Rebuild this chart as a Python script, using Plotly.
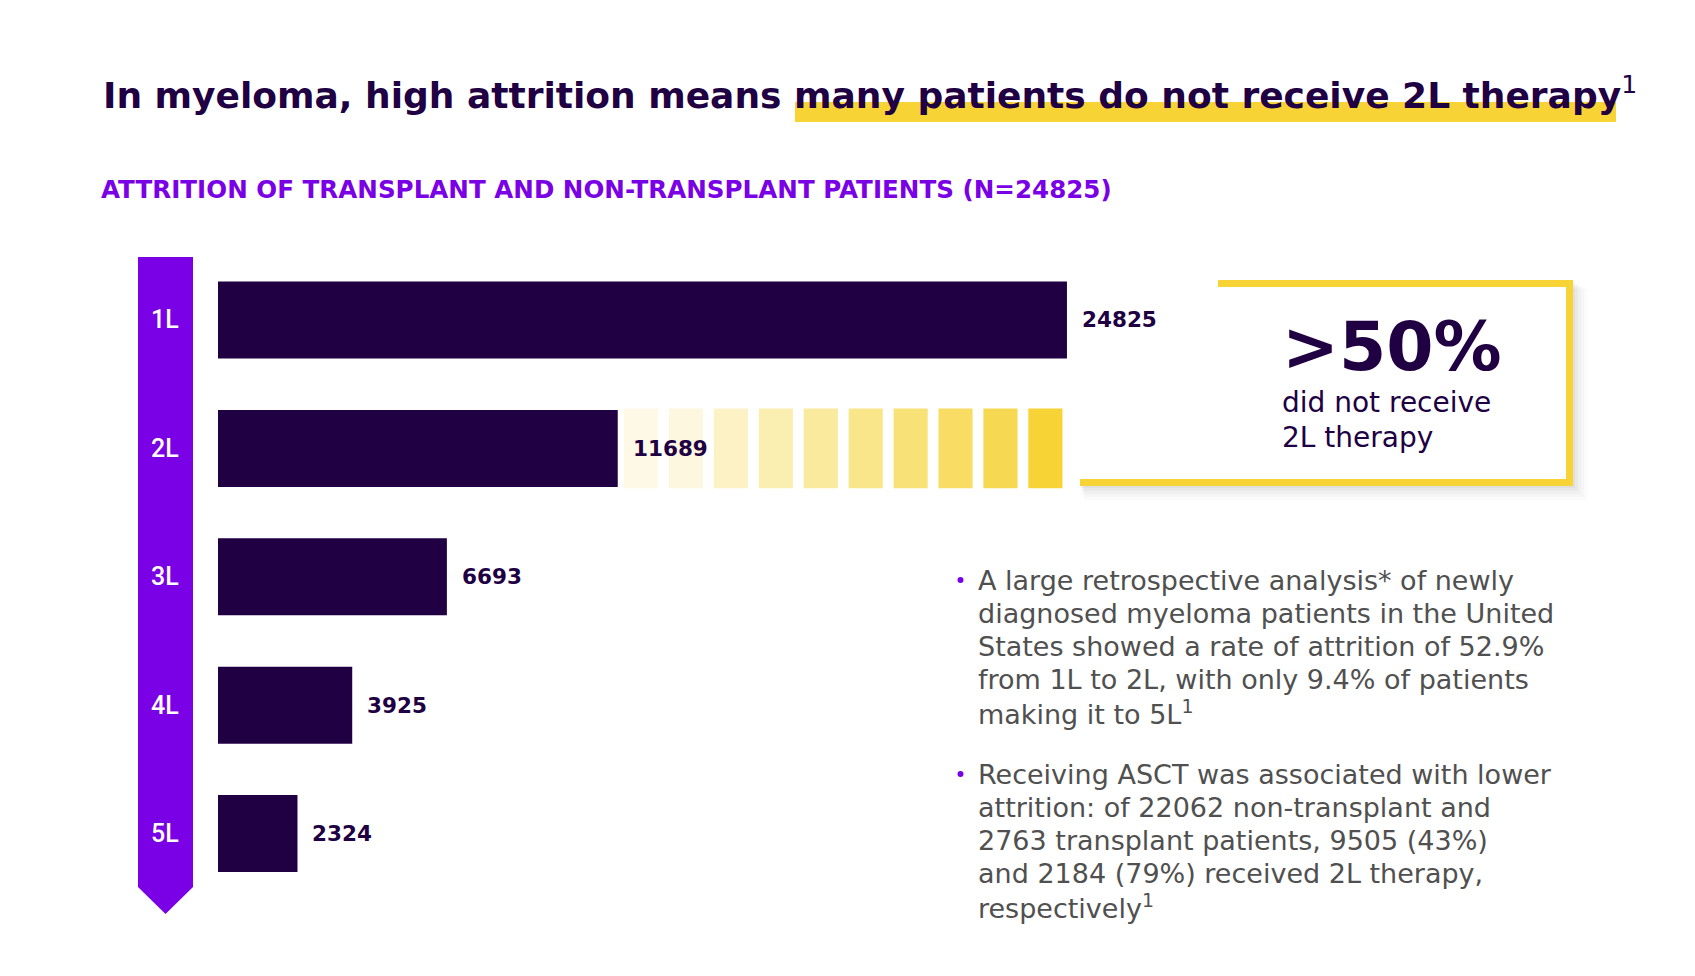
import plotly.graph_objects as go

# ---------------- data ----------------
lines = ["1L", "2L", "3L", "4L", "5L"]
patients = [24825, 11689, 6693, 3925, 2324]
n_stripes = 10
stripe_colors = ["#FEF9E6", "#FDF7E0", "#FCF2C6", "#FBEEB1", "#FAEA9E",
                 "#F9E58A", "#F8E177", "#F8DC64", "#F7D852", "#F7D336"]

title_plain = "In myeloma, high attrition means "
title_high = "many patients do not receive 2L therapy"
subtitle = "ATTRITION OF TRANSPLANT AND NON-TRANSPLANT PATIENTS (N=24825)"
callout_big = ">50%"
callout_lines = ["did not receive", "2L therapy"]
bullet1 = ["A large retrospective analysis* of newly",
           "diagnosed myeloma patients in the United",
           "States showed a rate of attrition of 52.9%",
           "from 1L to 2L, with only 9.4% of patients",
           "making it to 5L<sup>1</sup>"]
bullet2 = ["Receiving ASCT was associated with lower",
           "attrition: of 22062 non-transplant and",
           "2763 transplant patients, 9505 (43%)",
           "and 2184 (79%) received 2L therapy,",
           "respectively<sup>1</sup>"]

# ---------------- style / layout ----------------
W, H = 1695, 976
DARK = "#200043"
PURPLE = "#7A00E6"
YELLOW = "#F7D336"
GRAY = "#505050"
HEAD_FONT = "DejaVu Sans"
CAT_FONT = "Roboto"
BODY_FONT = "DejaVu Sans"

def px(x):
    return x / W

def py(y):
    return 1 - y / H

PLOT_LEFT = 218
X_MAX = 43190  # axis range so the longest bar ends near x=1067px

fig = go.Figure()

# main bars
fig.add_trace(go.Bar(
    y=lines, x=patients, orientation="h",
    marker=dict(color=DARK, line=dict(width=0)),
    width=0.6, hoverinfo="skip", showlegend=False,
))

# attrition stripes on the 2L row (lost patients split into equal slices)
lost = patients[0] - patients[1]
slot = lost / n_stripes
bases = [patients[1] + i * slot + 0.14 * slot for i in range(n_stripes)]
fig.add_trace(go.Bar(
    y=["2L"] * n_stripes, x=[0.76 * slot] * n_stripes, base=bases,
    orientation="h", marker=dict(color=stripe_colors, line=dict(width=0)),
    width=0.62, hoverinfo="skip", showlegend=False,
))

shapes = []
# purple arrow
ax0, ax1, atop, abot, atip = 138, 193, 257, 887, 914
path = (f"M {px(ax0)} {py(atop)} L {px(ax1)} {py(atop)} L {px(ax1)} {py(abot)} "
        f"L {px((ax0 + ax1) / 2)} {py(atip)} L {px(ax0)} {py(abot)} Z")
shapes.append(dict(type="path", xref="paper", yref="paper", path=path,
                   fillcolor=PURPLE, line=dict(width=0), layer="below"))

# title highlight
shapes.append(dict(type="rect", xref="paper", yref="paper",
                   x0=px(795), x1=px(1616), y0=py(102), y1=py(122),
                   fillcolor=YELLOW, line=dict(width=0), layer="below"))

# callout box shadow
for i, a in enumerate([0.035, 0.03, 0.025, 0.02, 0.015]):
    d = 2 + 3 * i
    shapes.append(dict(type="rect", xref="paper", yref="paper",
                       x0=px(1080 + d * 0.3), x1=px(1573 + d), y0=py(282 + d * 0.5), y1=py(486 + d),
                       fillcolor=f"rgba(0,0,0,{a})", line=dict(width=0), layer="below"))
shapes.append(dict(type="rect", xref="paper", yref="paper",
                   x0=px(1080), x1=px(1573), y0=py(280), y1=py(486),
                   fillcolor="white", line=dict(width=0), layer="below"))
for (x0, x1, y0, y1) in [(1218, 1573, 280, 287), (1566, 1573, 280, 486), (1080, 1573, 479, 486)]:
    shapes.append(dict(type="rect", xref="paper", yref="paper",
                       x0=px(x0), x1=px(x1), y0=py(y0), y1=py(y1),
                       fillcolor=YELLOW, line=dict(width=0), layer="below"))

# bullet dots
for cy in [580, 774]:
    shapes.append(dict(type="circle", xref="paper", yref="paper",
                       x0=px(957.5), x1=px(963.5), y0=py(cy - 3), y1=py(cy + 3),
                       fillcolor=PURPLE, line=dict(width=0)))

ann = []
# title
ann.append(dict(xref="paper", yref="paper", x=px(101), y=py(93), xanchor="left", yanchor="middle",
                text=f"<b>{title_plain}{title_high}</b><sup>1</sup>", showarrow=False,
                font=dict(family=HEAD_FONT, size=36, color=DARK)))
# subtitle
ann.append(dict(xref="paper", yref="paper", x=px(99), y=py(189), xanchor="left", yanchor="middle",
                text=f"<b>{subtitle}</b>", showarrow=False,
                font=dict(family=HEAD_FONT, size=24.6, color=PURPLE)))
# category labels inside the arrow
for lab in lines:
    ann.append(dict(xref="paper", yref="y", x=px(165), y=lab, xanchor="center", yanchor="middle",
                    text=lab, showarrow=False,
                    font=dict(family=CAT_FONT, size=25, color="white", weight=500)))
# value labels
for lab, v in zip(lines, patients):
    ann.append(dict(xref="x", yref="y", x=v, y=lab, xanchor="left", yanchor="middle", xshift=13,
                    text=f"<b>{v}</b>", showarrow=False,
                    font=dict(family=HEAD_FONT, size=21.5, color=DARK)))
# callout text
ann.append(dict(xref="paper", yref="paper", x=px(1280), y=py(346), xanchor="left", yanchor="middle",
                text=f"<b>{callout_big}</b>", showarrow=False,
                font=dict(family=HEAD_FONT, size=68, color=DARK)))
for i, t in enumerate(callout_lines):
    ann.append(dict(xref="paper", yref="paper", x=px(1280), y=py(402 + 35 * i),
                    xanchor="left", yanchor="middle", text=t, showarrow=False,
                    font=dict(family=BODY_FONT, size=28, color=DARK)))
# bullet text
for lines_txt, top in [(bullet1, 580.5), (bullet2, 774)]:
    for i, t in enumerate(lines_txt):
        ann.append(dict(xref="paper", yref="paper", x=px(976), y=py(top + 33.1 * i),
                        xanchor="left", yanchor="middle", text=t, showarrow=False,
                        font=dict(family=BODY_FONT, size=27, color=GRAY)))

y_top, y_bot = 255.8, 897.8
fig.update_layout(
    width=W, height=H, margin=dict(l=0, r=0, t=0, b=0),
    paper_bgcolor="white", plot_bgcolor="white",
    barmode="overlay", showlegend=False,
    xaxis=dict(domain=[px(PLOT_LEFT), 1], range=[0, X_MAX], visible=False, fixedrange=True),
    yaxis=dict(domain=[py(y_bot), py(y_top)], categoryorder="array", categoryarray=lines,
               autorange="reversed", visible=False, fixedrange=True),
    shapes=shapes, annotations=ann,
)

fig.write_html("out.html", config={"displayModeBar": False},
               post_script="document.body.style.margin='0';document.body.style.overflow='hidden';")
